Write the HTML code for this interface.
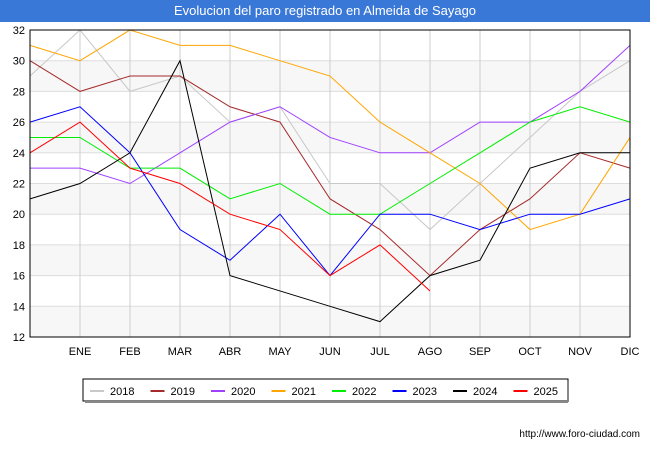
<!DOCTYPE html>
<html><head><meta charset="utf-8"><style>
body{margin:0;width:650px;height:450px;background:#fff;font-family:"Liberation Sans",sans-serif;overflow:hidden}
</style></head><body>
<div style="position:absolute;left:0;top:0;width:650px;height:22px;background:#3a78d8;color:#fff;font-size:13px;text-align:center;line-height:22px">Evolucion del paro registrado en Almeida de Sayago</div>
<svg id="c" width="650" height="450" style="position:absolute;left:0;top:0" font-family="Liberation Sans, sans-serif" font-size="11"></svg>
<script>
const months=["","ENE","FEB","MAR","ABR","MAY","JUN","JUL","AGO","SEP","OCT","NOV","DIC"];
const yTicks=[12,14,16,18,20,22,24,26,28,30,32];
const years=["2018","2019","2020","2021","2022","2023","2024","2025"];
const colors=["#c8c8c8","#a52a2a","#a040ff","#ffa500","#00ee00","#0000ff","#000000","#ff0000"];
const s2018=[29,32,28,29,26,27,22,22,19,22,25,28,30];
const s2019=[30,28,29,29,27,26,21,19,16,19,21,24,23];
const s2020=[23,23,22,24,26,27,25,24,24,26,26,28,31];
const s2021=[31,30,32,31,31,30,29,26,24,22,19,20,25];
const s2022=[25,25,23,23,21,22,20,20,22,24,26,27,26];
const s2023=[26,27,24,19,17,20,16,20,20,19,20,20,21];
const s2024=[21,22,24,30,16,15,14,13,16,17,23,24,24];
const s2025=[24,26,23,22,20,19,16,18,15];
const series=[s2018,s2019,s2020,s2021,s2022,s2023,s2024,s2025];
const L=30,R=630,T=30,B=337;
const x=i=>L+i*(R-L)/12;
const y=v=>B-(v-12)*(B-T)/20;
const svg=document.getElementById('c');const NS="http://www.w3.org/2000/svg";
function mk(t,a){const e=document.createElementNS(NS,t);for(const k in a)e.setAttribute(k,a[k]);svg.appendChild(e);return e;}
for(let k=0;k<10;k++){if(k%2==0){const r=mk('rect',{x:L,y:y(yTicks[k+1]),width:R-L,height:y(yTicks[k])-y(yTicks[k+1]),fill:'#f7f7f7'});

}}
yTicks.forEach(v=>{const l=mk('line',{x1:L,x2:R,y1:y(v),y2:y(v),stroke:'#dddddd'});


const t=mk('text',{x:L-5,y:y(v)+4,'text-anchor':'end',fill:'#000'});t.textContent=v;

});
months.forEach((m,i)=>{if(i>0){const l=mk('line',{x1:x(i),x2:x(i),y1:T,y2:B,stroke:'#cccccc'});

}
const t=mk('text',{x:x(i),y:B+18,'text-anchor':'middle',fill:'#000'});t.textContent=m;

});
series.forEach((s,k)=>{const p=mk('polyline',{points:s.map((v,i)=>x(i)+','+y(v)).join(' '),fill:'none',stroke:colors[k],'stroke-width':1});

});
const fr=mk('rect',{x:L,y:T,width:R-L,height:B-T,fill:'none',stroke:'#000'});


const lb=mk('rect',{x:83,y:379,width:485,height:22,fill:'#fff',stroke:'#000'});


mk('line',{x1:568,y1:381,x2:568,y2:402,stroke:'#888','stroke-width':2});
mk('line',{x1:85,y1:402,x2:568,y2:402,stroke:'#888','stroke-width':2});
years.forEach((yr,k)=>{const lx=90+k*60.5;
const l=mk('line',{x1:lx,x2:lx+14,y1:391,y2:391,stroke:colors[k],'stroke-width':2});


const t=mk('text',{x:lx+20,y:395,fill:'#000'});t.textContent=yr;

});
const u=mk('text',{x:640,y:437,'text-anchor':'end','font-size':10,fill:'#000'});u.textContent='http://www.foro-ciudad.com';


</script>
</body></html>
